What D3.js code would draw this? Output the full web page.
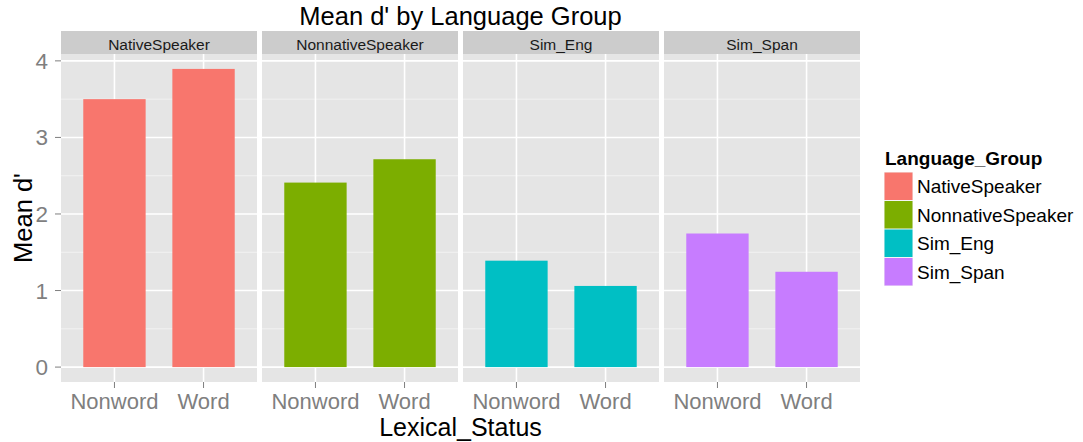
<!DOCTYPE html>
<html>
<head>
<meta charset="utf-8">
<script src="https://cdn.jsdelivr.net/npm/d3@7"></script>
<style>
  body { margin: 0; background: #fff; }
  text { font-family: "Liberation Sans", Arial, sans-serif; }
</style>
</head>
<body>
<svg id="chart" width="1083" height="442"></svg>
<script>
// data
const groups = ["NativeSpeaker", "NonnativeSpeaker", "Sim_Eng", "Sim_Span"];
const statuses = ["Nonword", "Word"];
const nonwordMeans = [3.50, 2.41, 1.39, 1.745];
const wordMeans = [3.895, 2.715, 1.06, 1.245];
const groupColors = ["#F8766D", "#7CAE00", "#00BFC4", "#C77CFF"];
const yTicks = [0, 1, 2, 3, 4];

const svg = d3.select("#chart");

const panelLeft = 61, panelRight = 860, panelGap = 5;
const stripTop = 31, stripH = 23;
const plotTop = stripTop + stripH, plotBottom = 382;
const panelW = (panelRight - panelLeft - panelGap * 3) / 4;

const color = d3.scaleOrdinal().domain(groups).range(groupColors);

// y scale with ggplot style 5% expansion
const yMax = d3.max(nonwordMeans.concat(wordMeans));
const y = d3.scaleLinear()
    .domain([-yMax * 0.05, yMax * 1.05])
    .range([plotBottom, plotTop]);

// discrete x inside each panel: 0.6 units of padding each side
const xInner = d3.scaleLinear().domain([0.4, 2.6]).range([0, panelW]);
const barWidth = xInner(1.35) - xInner(0.65);

const rows = groups.map((g, i) => ({
    group: g,
    values: [nonwordMeans[i], wordMeans[i]]
}));

// title
svg.append("text")
    .attr("x", (panelLeft + panelRight) / 2)
    .attr("y", 25)
    .attr("text-anchor", "middle")
    .attr("font-size", "25.5px")
    .attr("fill", "#000")
    .text("Mean d' by Language Group");

const panels = svg.selectAll("g.panel")
    .data(rows)
    .enter().append("g")
    .attr("class", "panel")
    .attr("transform", (d, i) => `translate(${panelLeft + i * (panelW + panelGap)},0)`);

// strip
panels.append("rect")
    .attr("x", 0).attr("y", stripTop)
    .attr("width", panelW).attr("height", stripH)
    .attr("fill", "#cccccc");

panels.append("text")
    .attr("x", panelW / 2)
    .attr("y", 49.5)
    .attr("text-anchor", "middle")
    .attr("font-size", "15.5px")
    .attr("fill", "#1a1a1a")
    .text(d => d.group);

// panel background
panels.append("rect")
    .attr("x", 0).attr("y", plotTop)
    .attr("width", panelW).attr("height", plotBottom - plotTop)
    .attr("fill", "#e5e5e5");

// minor grid
const minorTicks = yTicks.map(t => t + 0.5).filter(t => y(t) > plotTop);
panels.selectAll("line.minor")
    .data(minorTicks)
    .enter().append("line")
    .attr("x1", 0).attr("x2", panelW)
    .attr("y1", d => y(d)).attr("y2", d => y(d))
    .attr("stroke", "#f2f2f2")
    .attr("stroke-width", 1);

// major grid
panels.selectAll("line.major")
    .data(yTicks)
    .enter().append("line")
    .attr("x1", 0).attr("x2", panelW)
    .attr("y1", d => y(d)).attr("y2", d => y(d))
    .attr("stroke", "#ffffff")
    .attr("stroke-width", 1.6);

panels.selectAll("line.vgrid")
    .data([1, 2])
    .enter().append("line")
    .attr("x1", d => xInner(d)).attr("x2", d => xInner(d))
    .attr("y1", plotTop).attr("y2", plotBottom)
    .attr("stroke", "#ffffff")
    .attr("stroke-width", 1.6);

// bars
panels.selectAll("rect.bar")
    .data(d => d.values.map((v, j) => ({ group: d.group, v: v, k: j + 1 })))
    .enter().append("rect")
    .attr("class", "bar")
    .attr("x", d => xInner(d.k) - barWidth / 2)
    .attr("width", barWidth)
    .attr("y", d => y(d.v))
    .attr("height", d => y(0) - y(d.v))
    .attr("fill", d => color(d.group));

// x ticks and labels
panels.selectAll("line.xtick")
    .data([1, 2])
    .enter().append("line")
    .attr("x1", d => xInner(d)).attr("x2", d => xInner(d))
    .attr("y1", plotBottom).attr("y2", plotBottom + 6)
    .attr("stroke", "#7f7f7f")
    .attr("stroke-width", 1);

panels.selectAll("text.xlab")
    .data(statuses)
    .enter().append("text")
    .attr("x", (d, i) => xInner(i + 1))
    .attr("y", 408.5)
    .attr("text-anchor", "middle")
    .attr("font-size", "22px")
    .attr("fill", "#7f7f7f")
    .text(d => d);

// y axis
const yAxis = svg.append("g");
yAxis.selectAll("line")
    .data(yTicks)
    .enter().append("line")
    .attr("x1", panelLeft - 6).attr("x2", panelLeft)
    .attr("y1", d => y(d)).attr("y2", d => y(d))
    .attr("stroke", "#7f7f7f");
yAxis.selectAll("text")
    .data(yTicks)
    .enter().append("text")
    .attr("x", 48)
    .attr("y", d => y(d) + 8)
    .attr("text-anchor", "end")
    .attr("font-size", "22.5px")
    .attr("fill", "#7f7f7f")
    .text(d => d);

// axis titles
svg.append("text")
    .attr("x", (panelLeft + panelRight) / 2)
    .attr("y", 436)
    .attr("text-anchor", "middle")
    .attr("font-size", "25px")
    .attr("fill", "#000")
    .text("Lexical_Status");

svg.append("text")
    .attr("transform", `translate(32,${(plotTop + plotBottom) / 2}) rotate(-90)`)
    .attr("text-anchor", "middle")
    .attr("font-size", "25.5px")
    .attr("fill", "#000")
    .text("Mean d'");

// legend
const legend = svg.append("g").attr("transform", "translate(884,150)");
legend.append("text")
    .attr("x", 1).attr("y", 15)
    .attr("font-size", "19px")
    .attr("font-weight", "bold")
    .attr("fill", "#000")
    .text("Language_Group");

const keyH = 28.5;
const keys = legend.selectAll("g.key")
    .data(groups)
    .enter().append("g")
    .attr("transform", (d, i) => `translate(0,${22 + i * keyH})`);
keys.append("rect")
    .attr("width", 29).attr("height", keyH)
    .attr("fill", "#f2f2f2");
keys.append("rect")
    .attr("x", 0.5).attr("y", 0.5)
    .attr("width", 28).attr("height", keyH - 1)
    .attr("fill", d => color(d));
keys.append("text")
    .attr("x", 33).attr("y", keyH / 2 + 7)
    .attr("font-size", "19px")
    .attr("fill", "#000")
    .text(d => d);
</script>
</body>
</html>
